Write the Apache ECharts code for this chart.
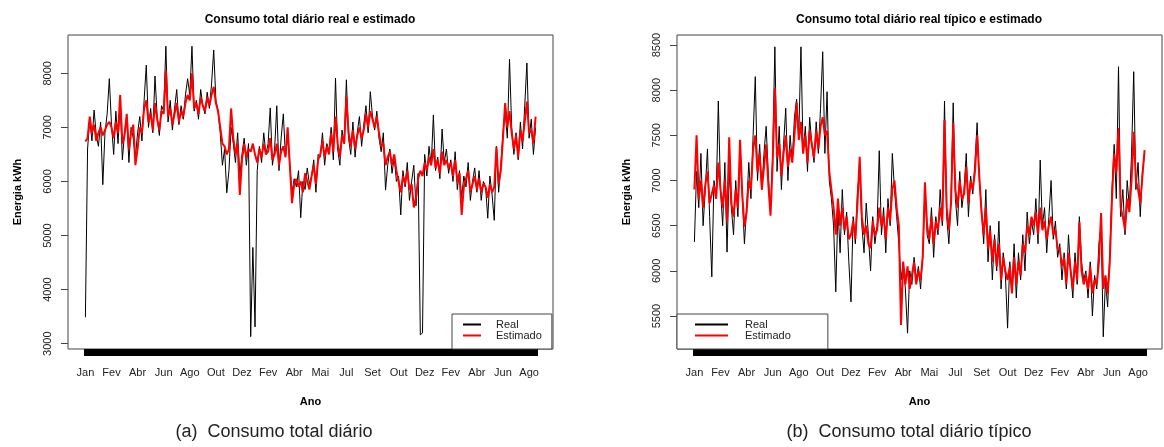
<!DOCTYPE html>
<html><head><meta charset="utf-8">
<script src="https://cdn.jsdelivr.net/npm/echarts@6/dist/echarts.min.js"></script>
<style>html,body{margin:0;padding:0;background:#fff}#c{width:1164px;height:447px}</style>
</head><body><div id="c"></div><script>
// ---- data ----
const monthLabels = ['Jan','Fev','Abr','Jun','Ago','Out','Dez','Fev','Abr','Mai','Jul','Set','Out','Dez','Fev','Abr','Jun','Ago'];
const yTicksA = [3000,4000,5000,6000,7000,8000];
const yTicksB = [5500,6000,6500,7000,7500,8000,8500];

const realA = [
3490,6600,7150,6750,7320,6850,6650,7100,5940,6900,7250,7900,
7050,6500,7300,6700,7450,6400,6900,7200,6350,7000,6800,6450,
6900,7200,6750,7500,8150,7000,7350,6900,7950,7200,6850,7400,
7300,8500,7100,7500,6950,7350,7700,7050,7400,7150,7600,7900,
7600,8500,7300,7500,7150,7700,7400,7250,7650,7350,7800,8430,
7500,7300,6900,6300,6600,5790,6200,7000,6700,6350,6900,6100,
6500,6800,6300,6700,3130,4780,3310,6200,6650,6350,6900,6500,
6700,7360,6300,6600,7400,6200,6800,7250,6450,6900,6300,5800,
6050,5900,6200,5330,6000,5850,6250,5950,6100,6400,5800,6500,
6450,6900,6300,6700,6550,7000,6400,7910,6600,6300,6950,6700,
7880,6800,6500,7100,6450,6900,7200,6650,7050,7400,6900,7660,
7200,6950,7300,6800,6550,6900,5840,6300,6600,6150,6450,6000,
6100,5380,6200,5900,6350,5650,6000,6300,5550,6150,3165,3200,
6500,6100,6650,6300,7230,6200,6450,6050,6970,6350,6600,6150,
6400,6000,6550,5850,6200,5700,6100,5900,6350,5650,6000,6250,
5800,6200,5650,6000,5900,5320,6100,5750,5280,6650,5800,6300,
6900,7300,6800,8260,7000,6500,6900,6400,7100,6600,7400,8190,6800,7150,6500,7000
];
const estA = [
6740,6800,7200,6900,7050,6750,6900,7000,6850,6950,7050,7100,
7000,6800,7100,6900,7600,6700,6850,7250,6600,6900,7050,6300,
6600,7000,6900,7350,7500,7100,7250,6950,7450,7150,6950,7300,
7250,8050,7200,7350,7050,7250,7450,7100,7300,7200,7450,7600,
7500,8000,7350,7450,7250,7550,7400,7300,7550,7400,7600,7750,
7450,7300,7000,6700,6650,6500,6600,7350,6800,6500,6700,5750,
6400,6700,6450,6600,6550,6700,6500,6350,6600,6450,6700,6500,
6550,6800,6400,6500,6700,6300,6550,6650,6450,7000,6300,5600,
5950,6050,5900,6000,5800,6150,6000,5850,6100,6300,5950,6400,
6500,6750,6450,6650,6500,6900,6550,7200,6700,6450,6850,6700,
7570,6900,6650,6950,6600,6850,7000,6800,6950,7250,7000,7300,
7150,7000,7200,6900,6650,6700,6300,6450,6550,6300,6500,6200,
6000,5800,6100,5950,6200,5850,5950,5520,5700,6050,6200,6100,
6350,6200,6450,6300,6600,6250,6400,6150,6550,6300,6400,6250,
6350,6100,6400,6000,6150,5380,5900,6050,6200,5800,5950,6100,
5850,6050,5800,5950,5900,5700,5950,5800,5900,6640,5950,6200,
6800,7450,7000,7300,6900,6600,6850,6450,6950,6750,7100,7475,6900,6950,6700,7200
];
const realB = [
6320,7100,6700,7300,6500,6900,7350,6600,5934,7000,6800,7880,
6900,6500,7200,6207,7100,6700,6400,7000,6600,7300,6850,6300,
6700,7200,6800,7500,8150,7000,7400,6900,7300,7600,7050,6650,
7300,8480,7100,7600,6900,7400,7800,7000,7500,7200,7700,7900,
7500,8480,7300,7600,7100,7700,7400,7200,7650,7300,7800,8426,
7300,7983,7000,6800,6500,5768,6700,6200,6900,6400,6650,6100,
5657,6600,6300,6900,7100,6500,6200,6750,6400,6000,6600,6300,
6500,7330,6400,6700,6200,6800,6500,7300,6900,6600,6300,5900,
6100,5800,5310,6000,5850,6150,5900,6050,5800,6200,6900,6400,
6300,6700,6150,6600,6400,6900,6500,7880,6600,6300,6800,7860,
6800,6500,7100,6700,6900,7300,6600,7050,6850,7200,7640,7000,
6700,6300,6900,6100,6500,5900,6400,6000,6550,5800,6200,5950,
5366,6100,5800,6300,5700,6200,5900,6400,6000,6650,6300,6550,
6400,6800,6300,7227,6500,6700,6200,6600,7000,6350,6550,6150,
6300,5900,6200,5800,6400,6000,5700,6200,5850,6600,6100,5900,
6000,5700,6100,5500,5950,5800,6300,6500,5270,5900,5600,6200,
6900,7400,6800,8260,6600,6900,6400,7000,6700,7300,8205,6900,7200,6600,7100,7300
];
const estB = [
6900,7500,6800,7000,6700,6950,7100,6750,6850,6950,6800,7200,
6900,6700,7000,6550,7480,6750,6600,6900,6700,7450,6850,6490,
6650,7000,6900,7350,7500,7100,7300,6900,7150,7400,6950,6610,
7200,8020,7250,7400,7050,7300,7500,7150,7350,7200,7500,7860,
7450,7650,7300,7500,7200,7550,7400,7250,7550,7350,7600,7700,
7500,7550,7100,6900,6700,6400,6800,6500,6700,6450,6600,6350,
6400,6550,6350,6750,7263,6600,6400,6500,6300,6250,6550,6400,
6450,6700,6500,6600,6350,6700,6550,6900,7000,6700,6500,5400,
6100,5850,6050,5800,5950,6100,5850,6000,5900,6150,6980,6500,
6350,6600,6300,6550,6450,6700,6550,7670,6700,6450,6750,7640,
6900,6700,7000,6800,6850,7150,6750,7000,6900,7100,7500,7050,
6650,6400,6700,6250,6450,6100,6350,6050,6300,5900,6150,6000,
5900,6050,5750,6150,5850,6100,5950,6300,6200,6500,6400,6600,
6500,6650,6400,6700,6450,6550,6350,6500,6600,6400,6450,6250,
6250,6050,6150,5850,6200,6000,5800,6100,5900,6540,6000,5850,
5950,5800,6050,5750,5900,5850,6100,6640,5800,5950,5750,6100,
6800,7300,7100,7580,6700,6600,6450,6800,6650,7000,7540,7000,6900,6750,7050,7337
];

// ---- build ----
const FONT = '"Liberation Sans", Arial, Helvetica, sans-serif';
const PAD = 8, STEP = 12;
const N = realA.length;
const total = N + 2 * PAD;
const cats = Array.from({length: total}, (_, i) => String(i));
const padArr = a => Array(PAD).fill(null).concat(a, Array(PAD).fill(null));
const isLabel = i => i >= PAD && (i - PAD) % STEP === 0 && (i - PAD) / STEP < monthLabels.length;
const labelAt = i => isLabel(i) ? monthLabels[(i - PAD) / STEP] : '';
const isData = i => i >= PAD && i < PAD + N;

function xAxis(gridIndex) {
  return {
    type: 'category', gridIndex, data: cats, boundaryGap: false,
    axisLine: {show: false},
    axisTick: {show: true, interval: (i) => isData(i), length: 7, lineStyle: {color: '#000', width: 4}},
    axisLabel: {interval: (i) => isLabel(i), formatter: (v, i) => labelAt(i), margin: 18,
      fontSize: 11, color: '#222', fontFamily: FONT},
    name: 'Ano', nameLocation: 'middle', nameGap: 47,
    nameTextStyle: {fontWeight: 'bold', fontSize: 11, color: '#000', fontFamily: FONT},
    splitLine: {show: false}
  };
}
function yAxis(gridIndex, min, max, ticks) {
  return {
    type: 'value', gridIndex, min, max, scale: true,
    axisLine: {show: false}, splitLine: {show: false},
    axisTick: {show: true, customValues: ticks, length: 7, lineStyle: {color: '#444'}},
    axisLabel: {customValues: ticks, rotate: 90, margin: 15, fontSize: 11, color: '#222', fontFamily: FONT,
      formatter: (v) => String(Math.round(v))},
    name: 'Energia kWh', nameLocation: 'middle', nameGap: 45,
    nameTextStyle: {fontWeight: 'bold', fontSize: 11, color: '#000', fontFamily: FONT}
  };
}
function legend(left, itemWidth, padding, textPadLeft) {
  return {
    left, top: 314, orient: 'vertical', itemGap: 0, itemWidth, itemHeight: 11,
    padding, borderColor: '#444', borderWidth: 1, backgroundColor: '#fff',
    itemStyle: {opacity: 0}, selectedMode: false,
    textStyle: {fontSize: 11, color: '#222', fontFamily: FONT, padding: [0, 0, 0, textPadLeft]},
    data: ['Real', 'Estimado']
  };
}
function series(name, data, xi, color, width, z) {
  return {name, type: 'line', xAxisIndex: xi, yAxisIndex: xi, data: padArr(data),
    symbol: 'none', showSymbol: false, z, lineStyle: {color, width}, itemStyle: {color}};
}

const gridBase = {top: 35, width: 485, height: 314, show: true, borderColor: '#444', borderWidth: 1,
  backgroundColor: 'transparent', containLabel: false, outerBoundsMode: 'none'};

const chart = echarts.init(document.getElementById('c'), null, {renderer: 'canvas'});
chart.setOption({
  animation: false,
  backgroundColor: '#fff',
  title: [
    {text: 'Consumo total diário real e estimado', left: 310, top: 13, textAlign: 'center', padding: 0,
      textStyle: {fontSize: 12, fontWeight: 'bold', color: '#000', fontFamily: FONT, lineHeight: 14}},
    {text: 'Consumo total diário real típico e estimado', left: 919, top: 13, textAlign: 'center', padding: 0,
      textStyle: {fontSize: 12, fontWeight: 'bold', color: '#000', fontFamily: FONT, lineHeight: 14}},
    {text: '(a)  Consumo total diário', left: 274, top: 422, textAlign: 'center', padding: 0,
      textStyle: {fontSize: 18, fontWeight: 'normal', color: '#222', fontFamily: FONT, lineHeight: 20}},
    {text: '(b)  Consumo total diário típico', left: 909, top: 422, textAlign: 'center', padding: 0,
      textStyle: {fontSize: 18, fontWeight: 'normal', color: '#222', fontFamily: FONT, lineHeight: 20}}
  ],
  legend: [
    legend(452, 18, [5, 10, 8, 10], 10),
    legend(677, 33, [5, 37, 8, 17], 12)
  ],
  grid: [
    Object.assign({left: 68}, gridBase),
    Object.assign({left: 677}, gridBase)
  ],
  xAxis: [xAxis(0), xAxis(1)],
  yAxis: [yAxis(0, 2902, 8708, yTicksA), yAxis(1, 5135, 8611, yTicksB)],
  series: [
    series('Real', realA, 0, '#000', 1, 2),
    series('Estimado', estA, 0, '#ff0000', 2, 3),
    series('Real', realB, 1, '#000', 1, 2),
    series('Estimado', estB, 1, '#ff0000', 2, 3)
  ]
});
</script></body></html>
